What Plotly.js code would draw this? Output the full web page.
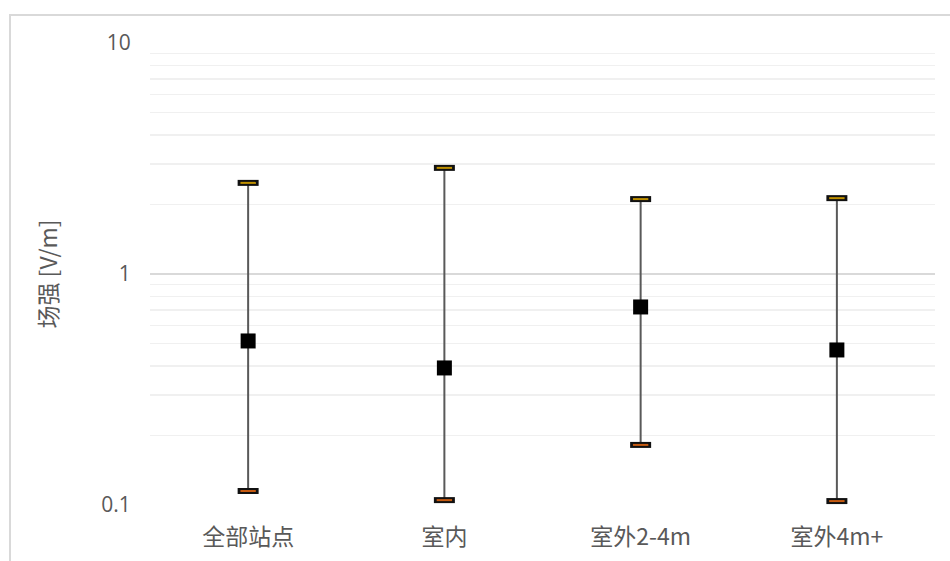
<!DOCTYPE html>
<html>
<head>
<meta charset="utf-8">
<script src="https://cdn.plot.ly/plotly-3.0.1.min.js"></script>
<style>
  html, body { margin: 0; padding: 0; background: #ffffff; }
  #frame { position: absolute; left: 9px; top: 14px; width: 960px; height: 560px; border: 2px solid #d9d9d9; box-sizing: border-box; }
  #chart { position: absolute; left: 0; top: 0; width: 950px; height: 561px; }
</style>
</head>
<body>
<div id="frame"></div>
<div id="chart"></div>
<script>
const categories = ['全部站点', '室内', '室外2-4m', '室外4m+'];
const meanValues = [0.513, 0.392, 0.72, 0.469];
const maxValues = [2.48, 2.88, 2.11, 2.13];
const minValues = [0.115, 0.105, 0.182, 0.104];
const yTickVals = [0.1, 1, 10];
const yTickText = ['0.1', '1', '10'];
const yMinorVals = [0.2, 0.3, 0.4, 0.5, 0.6, 0.7, 0.8, 0.9, 2, 3, 4, 5, 6, 7, 8, 9];

const font = "'Open Sans', 'Noto Sans CJK SC', sans-serif";
const cjkFont = "'Noto Sans CJK SC', sans-serif";

const plus = maxValues.map((v, i) => v - meanValues[i]);
const minus = meanValues.map((v, i) => v - minValues[i]);

const traces = [
  {
    type: 'scatter', mode: 'markers', x: categories, y: meanValues,
    marker: { symbol: 'square', size: 15, color: '#000000' },
    error_y: { type: 'data', symmetric: false, array: plus, arrayminus: minus,
               color: '#595959', thickness: 2, width: 0 },
    hoverinfo: 'x+y', showlegend: false
  },
  { type: 'scatter', mode: 'markers', x: categories, y: maxValues,
    marker: { symbol: 'line-ew', size: 15, line: { width: 6, color: '#111111' } }, showlegend: false, hoverinfo: 'skip' },
  { type: 'scatter', mode: 'markers', x: categories, y: maxValues,
    marker: { symbol: 'line-ew', size: 11, line: { width: 2, color: '#bf9000' } }, showlegend: false, hoverinfo: 'skip' },
  { type: 'scatter', mode: 'markers', x: categories, y: minValues,
    marker: { symbol: 'line-ew', size: 15, line: { width: 6, color: '#111111' } }, showlegend: false, hoverinfo: 'skip' },
  { type: 'scatter', mode: 'markers', x: categories, y: minValues,
    marker: { symbol: 'line-ew', size: 11, line: { width: 2, color: '#c55a11' } }, showlegend: false, hoverinfo: 'skip' }
];

const layout = {
  width: 950, height: 561, autosize: false,
  margin: { l: 150, r: 15, t: 43, b: 56, autoexpand: false },
  paper_bgcolor: 'rgba(0,0,0,0)', plot_bgcolor: 'rgba(0,0,0,0)',
  showlegend: false,
  xaxis: {
    type: 'category', range: [-0.5, 3.5], autorange: false,
    showgrid: false, zeroline: false, showline: false,
    ticks: 'outside', ticklen: 11, tickcolor: 'rgba(0,0,0,0)',
    tickfont: { family: cjkFont, size: 23, color: '#595959' }
  },
  yaxis: {
    type: 'log', range: [-1, 1], autorange: false,
    tickmode: 'array', tickvals: yTickVals, ticktext: yTickText,
    showgrid: true, gridcolor: '#d9d9d9', gridwidth: 1.5,
    zeroline: false, showline: false,
    ticks: 'outside', ticklen: 14, tickcolor: 'rgba(0,0,0,0)',
    tickfont: { family: font, size: 21, color: '#595959' },
    minor: { tickmode: 'array', tickvals: yMinorVals, showgrid: true, gridcolor: '#f0f0f0', gridwidth: 1.5, ticks: '' },
    title: { text: '场强 [V/m]', font: { family: cjkFont, size: 23, color: '#595959' }, standoff: 37 }
  }
};

Plotly.newPlot('chart', traces, layout, { displayModeBar: false, staticPlot: true });
</script>
</body>
</html>
